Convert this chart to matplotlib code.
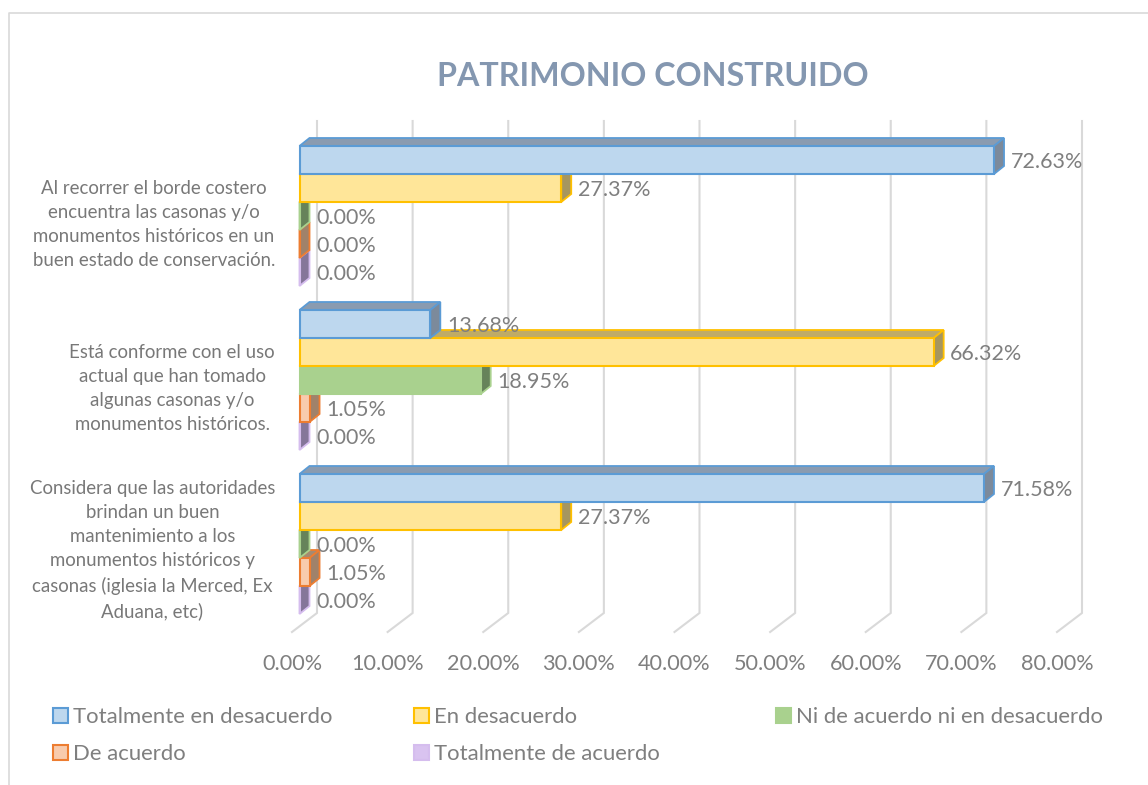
import matplotlib
matplotlib.use("Agg")
import matplotlib.pyplot as plt
from matplotlib.patches import Polygon, Patch
from matplotlib.lines import Line2D
from matplotlib.transforms import ScaledTranslation

plt.rcParams['font.family'] = ['Lato', 'DejaVu Sans']

title = "PATRIMONIO CONSTRUIDO"
categories = [
    "Al recorrer el borde costero\nencuentra las casonas y/o\nmonumentos históricos en un\nbuen estado de conservación.",
    "Está conforme con el uso\nactual que han tomado\nalgunas casonas y/o\nmonumentos históricos.",
    "Considera que las autoridades\nbrindan un buen\nmantenimiento a los\nmonumentos históricos y\ncasonas (iglesia la Merced, Ex\nAduana, etc)",
]
series_names = ["Totalmente en desacuerdo", "En desacuerdo", "Ni de acuerdo ni en desacuerdo",
                "De acuerdo", "Totalmente de acuerdo"]
totalmente_desacuerdo = [72.63, 13.68, 71.58]
en_desacuerdo = [27.37, 66.32, 27.37]
ni_ni = [0.00, 18.95, 0.00]
de_acuerdo = [0.00, 1.05, 1.05]
totalmente_acuerdo = [0.00, 0.00, 0.00]
series_values = [totalmente_desacuerdo, en_desacuerdo, ni_ni, de_acuerdo, totalmente_acuerdo]
x_ticks = [0, 10, 20, 30, 40, 50, 60, 70, 80]

fills = ["#BDD7EE", "#FFE699", "#A9D18E", "#F8CBAD", "#D9C3F0"]
edges = ["#5B9BD5", "#FFC000", "#A9D18E", "#ED7D31", "#D5BDEE"]
tops = ["#8A9BB0", "#BFAB66", "#6F8C5E", "#A58A72", "#8C7D9E"]
sides = ["#7C8A9B", "#A6965F", "#66835A", "#A0826A", "#85769A"]

W, H = 1148, 785
fig = plt.figure(figsize=(W / 100, H / 100), dpi=100, facecolor="white")
L, R, T, B = 292, 1057, 140, 632
ax = fig.add_axes([L / W, 1 - B / H, (R - L) / W, (B - T) / H])
ax.set_xlim(0, 80)
ax.set_ylim(2.5, -0.5)
ux = (R - L) / 80   # px per x unit
uy = (B - T) / 3    # px per y unit
for s in ax.spines.values():
    s.set_visible(False)

grid = "#D9D9D9"
wx, wy = 25 / ux, 19 / uy
for v in x_ticks:
    ax.plot([v, v + wx, v + wx], [2.5, 2.5 - wy, -0.5 - wy], color=grid, lw=1.5,
            clip_on=False, zorder=1, solid_joinstyle="miter")

ox, oy = 7.5 / ux, 6 / uy     # bar front plane
dx, dy = 10 / ux, 8 / uy      # bar depth
bh = 28 / uy
z = 3
for c in range(len(categories)):
    for k in range(len(series_values) - 1, -1, -1):
        v = series_values[k][c]
        yc = c - oy + (k - 2) * bh
        x0, x1 = ox, ox + v
        y0, y1 = yc - bh / 2, yc + bh / 2
        ax.add_patch(Polygon([(x0, y0), (x0 + dx, y0 - dy), (x1 + dx, y0 - dy), (x1, y0)],
                             fc=tops[k], ec=edges[k], lw=1.3, clip_on=False, zorder=z))
        ax.add_patch(Polygon([(x1, y0), (x1 + dx, y0 - dy), (x1 + dx, y1 - dy), (x1, y1)],
                             fc=sides[k], ec=edges[k], lw=1.3, clip_on=False, zorder=z))
        ax.barh(yc, v, height=bh, left=ox, color=fills[k], edgecolor=edges[k], lw=1.5,
                clip_on=False, zorder=z + 0.5)
        ax.text(x1 + 16.5 / ux, yc + 2 / uy, f"{v:.2f}%", color="#7F7F7F", fontsize=15.5,
                va="center", ha="left", zorder=50)
        z += 1

ax.set_xticks(x_ticks)
ax.set_xticklabels([f"{v:.2f}%" for v in x_ticks])
ax.tick_params(axis="x", length=0, pad=15.5, labelsize=15.6, labelcolor="#7F7F7F")
ax.set_yticks(range(len(categories)))
ax.set_yticklabels(categories, ha="right", multialignment="center", linespacing=1.5)
ax.tick_params(axis="y", length=0, pad=12.2, labelsize=13.4, labelcolor="#787878")
for lab, shift in zip(ax.get_yticklabels(), [3, 3, 5]):
    lab.set_transform(lab.get_transform() + ScaledTranslation(0, shift / 100, fig.dpi_scale_trans))

fig.text(653 / W, 1 - 76 / H, title, ha="center", va="center", fontsize=23.2,
         fontweight="bold", color="#8497B0")

# chart frame
fig.add_artist(Line2D([9 / W, 9 / W, 1], [0, 1 - 12.5 / H, 1 - 12.5 / H], color=grid, lw=1.2))

# legend, one column at a time
columns = [(53, [0, 3]), (414, [1, 4]), (776, [2])]
for xpos, idx in columns:
    handles = [Patch(facecolor=fills[i], edgecolor=edges[i], lw=1.5) for i in idx]
    leg = fig.legend(handles, [series_names[i] for i in idx], loc="upper left",
                     bbox_to_anchor=(xpos / W, 1 - 707 / H), frameon=False, ncol=1,
                     fontsize=15.9, labelcolor="#7F7F7F", handlelength=0.68, handleheight=0.68,
                     handletextpad=0.22, labelspacing=0.78, borderpad=0, borderaxespad=0)

fig.savefig("out.png", dpi=100, facecolor="white")
